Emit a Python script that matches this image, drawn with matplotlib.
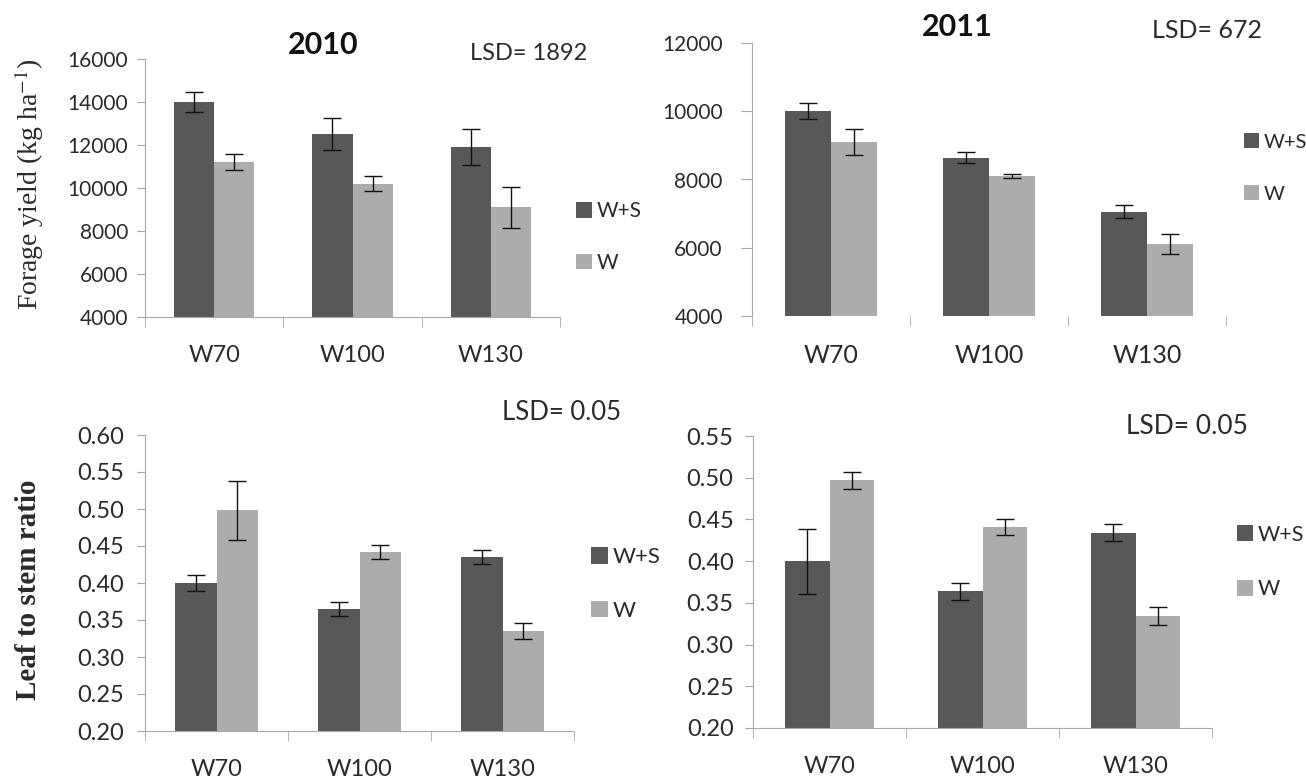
import matplotlib
matplotlib.use("Agg")
import matplotlib.pyplot as plt
import numpy as np

categories = ["W70", "W100", "W130"]
series_names = ["W+S", "W"]

# 2010 forage yield (kg ha-1)
fy2010_ws = [14000, 12500, 11900]
fy2010_ws_err = [450, 750, 850]
fy2010_w = [11200, 10200, 9100]
fy2010_w_err = [380, 350, 950]

# 2011 forage yield
fy2011_ws = [10000, 8640, 7060]
fy2011_ws_err = [230, 170, 200]
fy2011_w = [9100, 8110, 6100]
fy2011_w_err = [370, 60, 290]

# 2010 leaf to stem ratio
ls2010_ws = [0.400, 0.365, 0.435]
ls2010_ws_err = [0.011, 0.010, 0.009]
ls2010_w = [0.498, 0.442, 0.335]
ls2010_w_err = [0.040, 0.010, 0.011]

# 2011 leaf to stem ratio
ls2011_ws = [0.400, 0.364, 0.434]
ls2011_ws_err = [0.039, 0.010, 0.010]
ls2011_w = [0.497, 0.441, 0.334]
ls2011_w_err = [0.010, 0.010, 0.011]

DARK = "#585858"
LIGHT = "#acacac"
SPINE = "#a8a8a8"
TXT = "#2a2a2a"
W, H = 1306, 781

plt.rcParams["font.family"] = ["Lato", "DejaVu Sans"]
plt.rcParams["mathtext.fontset"] = "stix"

fig = plt.figure(figsize=(W / 100, H / 100), dpi=100)


def px_axes(left, right, top, bottom):
    return fig.add_axes([left / W, 1 - bottom / H, (right - left) / W, (bottom - top) / H])


def draw(ax, ws, ws_err, wv, w_err, ylim, yticks, fmt, ytick_fs, xtick_fs,
         show_bottom=True, leg_xy=None, leg_fs=15, leg_sp=1.4, ypad=6, ylen=6):
    x = np.arange(len(categories))
    bw = 0.29
    ek = dict(ecolor="#111111", elinewidth=1.0, capsize=6.5, capthick=1.0)
    b1 = ax.bar(x - bw / 2, ws, bw, yerr=ws_err, color=DARK, error_kw=ek,
                label=series_names[0], zorder=2)
    b2 = ax.bar(x + bw / 2, wv, bw, yerr=w_err, color=LIGHT, error_kw=ek,
                label=series_names[1], zorder=2)
    ax.set_xlim(-0.5, len(categories) - 0.5)
    ax.set_ylim(*ylim)
    ax.set_yticks(yticks)
    ax.set_yticklabels([fmt.format(v) for v in yticks], fontsize=ytick_fs, color=TXT)
    ax.set_xticks(x)
    ax.set_xticklabels(categories, fontsize=xtick_fs, color=TXT)
    ax.set_xticks(np.arange(len(categories) + 1) - 0.5, minor=True)
    ax.tick_params(axis="x", which="major", length=0, pad=20)
    ax.tick_params(axis="x", which="minor", length=7, color=SPINE, direction="out")
    ax.tick_params(axis="y", length=ylen, color=SPINE, direction="out", pad=ypad)
    for s in ["top", "right"]:
        ax.spines[s].set_visible(False)
    ax.spines["left"].set_color(SPINE)
    ax.spines["bottom"].set_color(SPINE)
    if not show_bottom:
        ax.spines["bottom"].set_visible(False)
    ax.legend(handles=[b1, b2], loc="center left", bbox_to_anchor=leg_xy,
              bbox_transform=fig.transFigure, frameon=False, fontsize=leg_fs,
              handlelength=0.75, handleheight=0.75, handletextpad=0.2,
              labelspacing=leg_sp, borderpad=0, labelcolor=TXT)
    return ax


# Top-left 2010 forage
ax1 = px_axes(145, 560, 59, 317)
draw(ax1, fy2010_ws, fy2010_ws_err, fy2010_w, fy2010_w_err,
     (4000, 16000), list(range(4000, 16001, 2000)), "{:d}", 15, 17,
     leg_xy=(566 / W, 1 - 237 / H), leg_fs=15, leg_sp=1.5)
fig.text(323 / W, 1 - 45 / H, "2010", fontsize=22, fontweight="bold",
         ha="center", va="center", color="#111111")
fig.text(529 / W, 1 - 53 / H, "LSD= 1892", fontsize=17, ha="center",
         va="center", color=TXT)
fig.text(29 / W, 1 - 184 / H, r"Forage yield (kg ha$^{-1}$)", rotation=90,
         fontsize=20, family=["Liberation Serif", "DejaVu Serif"],
         ha="center", va="center", color=TXT)

# Top-right 2011 forage
ax2 = px_axes(752, 1226, 43, 316)
draw(ax2, fy2011_ws, fy2011_ws_err, fy2011_w, fy2011_w_err,
     (4000, 12000), list(range(4000, 12001, 2000)), "{:d}", 15, 18,
     show_bottom=False, leg_xy=(1234 / W, 1 - 168 / H), leg_fs=14.5, leg_sp=1.7,
     ypad=13, ylen=8)
ax2.spines["left"].set_bounds(4000, 12000)
fig.text(957 / W, 1 - 27 / H, "2011", fontsize=22, fontweight="bold",
         ha="center", va="center", color="#111111")
fig.text(1207 / W, 1 - 30 / H, "LSD= 672", fontsize=18, ha="center",
         va="center", color=TXT)

# Bottom-left 2010 leaf:stem
ax3 = px_axes(145, 574, 435, 731)
lt3 = [0.20, 0.25, 0.30, 0.35, 0.40, 0.45, 0.50, 0.55, 0.60]
draw(ax3, ls2010_ws, ls2010_ws_err, ls2010_w, ls2010_w_err,
     (0.2, 0.6), lt3, "{:.2f}", 17, 17,
     leg_xy=(580 / W, 1 - 584 / H), leg_fs=16, leg_sp=1.5, ypad=9)
fig.text(562 / W, 1 - 412 / H, "LSD= 0.05", fontsize=18.5, ha="center",
         va="center", color=TXT)
fig.text(29 / W, 1 - 590 / H, "Leaf to stem ratio", rotation=90,
         fontsize=21, fontweight="bold", family=["Liberation Serif", "DejaVu Serif"],
         ha="center", va="center", color=TXT)

# Bottom-right 2011 leaf:stem
ax4 = px_axes(753, 1212, 436, 728)
lt4 = [0.20, 0.25, 0.30, 0.35, 0.40, 0.45, 0.50, 0.55]
draw(ax4, ls2011_ws, ls2011_ws_err, ls2011_w, ls2011_w_err,
     (0.2, 0.55), lt4, "{:.2f}", 17, 17,
     leg_xy=(1226 / W, 1 - 562 / H), leg_fs=15.5, leg_sp=1.6, ypad=8)
fig.text(1187 / W, 1 - 427 / H, "LSD= 0.05", fontsize=19, ha="center",
         va="center", color=TXT)

fig.savefig("out.png", dpi=100, facecolor="white")
